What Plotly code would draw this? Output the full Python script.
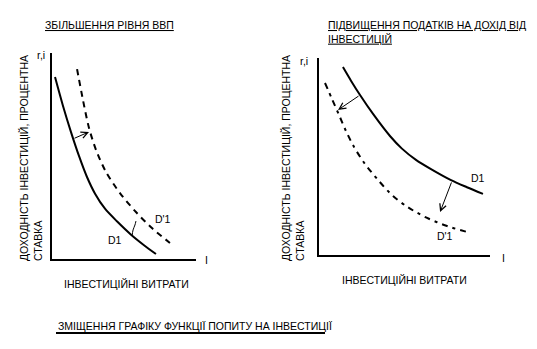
import plotly.graph_objects as go

W, H = 537, 349

# Left panel: growth of GDP shifts demand curve right
left_d1_x = [0.21, 0.76, 1.32, 1.88, 2.43, 2.99, 3.68, 4.51, 5.49, 6.39, 7.22]
left_d1_y = [8.83, 7.44, 6.16, 4.99, 3.98, 3.17, 2.44, 1.83, 1.18, 0.67, 0.24]
left_d1s_x = [1.74, 2.15, 2.57, 3.06, 3.75, 4.72, 5.83, 6.94, 8.19]
left_d1s_y = [9.22, 7.72, 6.36, 5.29, 4.22, 3.20, 2.28, 1.50, 0.78]

# Right panel: higher tax on investment income shifts demand curve left
right_d1_x = [1.40, 1.87, 2.40, 3.16, 4.15, 4.85, 5.67, 6.55, 7.72, 8.65, 9.59]
right_d1_y = [9.54, 8.85, 8.12, 7.16, 6.04, 5.40, 4.83, 4.36, 3.80, 3.44, 3.10]
right_d1s_x = [0.35, 0.76, 1.17, 1.58, 2.05, 2.69, 3.45, 4.33, 5.26, 6.32, 7.49, 8.65]
right_d1s_y = [8.73, 7.92, 7.11, 6.29, 5.48, 4.62, 3.81, 2.99, 2.39, 1.88, 1.47, 1.17]

# Shift arrows: (tail_x, tail_y, head_x, head_y)
left_arrows = [(1.46, 5.83, 2.57, 6.17)]
right_arrows = [(2.40, 8.12, 1.11, 7.36), (7.78, 3.76, 7.08, 2.18)]

# Curved shift arrow between the left curves: stem points, then the head
left_hook_x = [5.56, 5.63, 5.76, 5.83]
left_hook_y = [1.12, 1.41, 1.65, 1.84]
left_hook_head = (5.80, 1.75, 5.90, 1.94)

# Curve labels: (text, x, y)
left_labels = [("D'1", 7.71, 1.94), ("D1", 4.38, 0.92)]
right_labels = [("D1", 9.30, 3.91), ("D'1", 7.37, 0.96)]

title_left = "ЗБІЛЬШЕННЯ РІВНЯ ВВП"
title_right = "ПІДВИЩЕННЯ ПОДАТКІВ НА ДОХІД ВІД<br>ІНВЕСТИЦІЙ"
y_title = "ДОХОДНІСТЬ ІНВЕСТИЦІЙ, ПРОЦЕНТНА<br>СТАВКА"
x_title = "ІНВЕСТИЦІЙНІ ВИТРАТИ"
main_title = "ЗМІЩЕННЯ ГРАФІКУ ФУНКЦІЇ ПОПИТУ НА ІНВЕСТИЦІЇ"

FONT = "Arial, Liberation Sans, sans-serif"
FS = 10.5


def px(x):
    return x / W


def py(y):
    return 1 - y / H


fig = go.Figure()

line_solid = dict(color="black", width=2, shape="spline", smoothing=0.8)
line_dash = dict(color="black", width=2, shape="spline", smoothing=0.8, dash="6px,5px")

fig.add_trace(go.Scatter(x=left_d1_x, y=left_d1_y, mode="lines", line=line_solid,
                         xaxis="x", yaxis="y"))
fig.add_trace(go.Scatter(x=left_d1s_x, y=left_d1s_y, mode="lines", line=line_dash,
                         xaxis="x", yaxis="y"))
fig.add_trace(go.Scatter(x=left_hook_x, y=left_hook_y, mode="lines",
                         line=dict(color="black", width=1, shape="spline"),
                         xaxis="x", yaxis="y"))
fig.add_trace(go.Scatter(x=right_d1_x, y=right_d1_y, mode="lines", line=line_solid,
                         xaxis="x2", yaxis="y2"))
fig.add_trace(go.Scatter(x=right_d1s_x, y=right_d1s_y, mode="lines",
                         line=dict(line_dash, dash="6px,5px,3px,5px"),
                         xaxis="x2", yaxis="y2"))

axis_common = dict(range=[0, 10], showline=True, linecolor="black", linewidth=1.5,
                   showticklabels=False, showgrid=False, zeroline=False, ticks="",
                   fixedrange=True)

fig.update_layout(
    width=W, height=H,
    margin=dict(l=0, r=0, t=0, b=0),
    paper_bgcolor="white", plot_bgcolor="white",
    showlegend=False,
    font=dict(family=FONT, size=FS, color="black"),
    xaxis=dict(axis_common, domain=[px(52), px(196)], anchor="y"),
    yaxis=dict(axis_common, domain=[py(259), py(53)], anchor="x"),
    xaxis2=dict(axis_common, domain=[px(319), px(490)], anchor="y2"),
    yaxis2=dict(axis_common, domain=[py(255), py(58)], anchor="x2"),
)

ann = []


def arrow(t, xr, yr):
    tx, ty, hx, hy = t
    return dict(x=hx, y=hy, ax=tx, ay=ty, xref=xr, yref=yr, axref=xr, ayref=yr,
                showarrow=True, arrowhead=5, arrowsize=1.3, arrowwidth=1,
                arrowcolor="black", text="")


for a in left_arrows + [left_hook_head]:
    ann.append(arrow(a, "x", "y"))
for a in right_arrows:
    ann.append(arrow(a, "x2", "y2"))
for t, x, y in left_labels:
    ann.append(dict(text=t, x=x, y=y, xref="x", yref="y", showarrow=False))
for t, x, y in right_labels:
    ann.append(dict(text=t, x=x, y=y, xref="x2", yref="y2", showarrow=False))


def ptext(text, x, y, xanchor="left", yanchor="middle", **kw):
    return dict(text=text, x=px(x), y=py(y), xref="paper", yref="paper",
                xanchor=xanchor, yanchor=yanchor, showarrow=False, **kw)


ann += [
    ptext("<u>" + title_left + "</u>", 43, 25),
    ptext("<u>" + title_right + "</u>", 326, 32, align="left"),
    ptext("r,i", 35, 55),
    ptext("r,i", 298, 61),
    ptext("I", 203, 260),
    ptext("I", 500, 258),
    ptext(x_title, 62, 284),
    ptext(x_title, 340, 280),
    ptext(y_title, 16, 263, yanchor="bottom", textangle=-90, align="left"),
    ptext(y_title, 278, 263, yanchor="bottom", textangle=-90, align="left"),
    ptext(main_title, 56, 326),
]
fig.update_layout(annotations=ann)

# Heavy underline beneath the main caption
fig.add_shape(type="line", xref="paper", yref="paper",
              x0=px(56), x1=px(325), y0=py(333), y1=py(333),
              line=dict(color="black", width=2))

fig.write_html("out.html")
